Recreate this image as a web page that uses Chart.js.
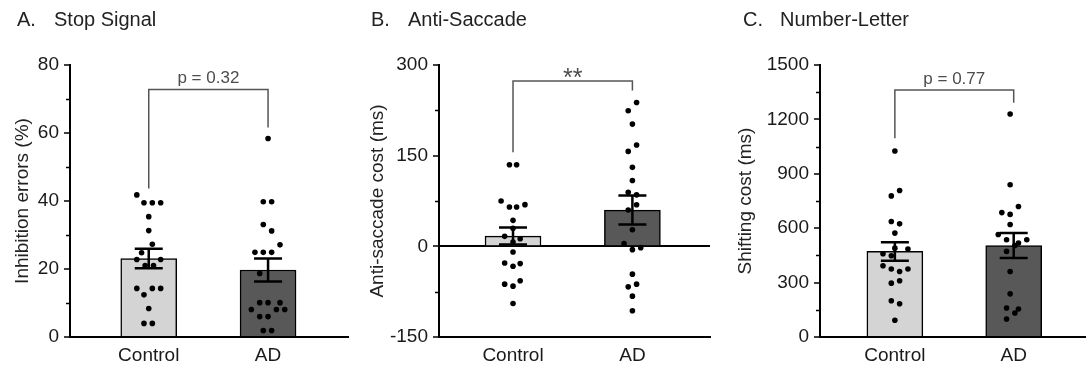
<!DOCTYPE html>
<html>
<head>
<meta charset="utf-8">
<script src="https://cdn.jsdelivr.net/npm/chart.js@4.4.1/dist/chart.umd.min.js"></script>
<style>
  body { margin: 0; background: #fff; width: 1089px; height: 368px; position: relative; overflow: hidden; }
  canvas { position: absolute; top: 0; }
</style>
</head>
<body>
<canvas id="stop" width="358" height="368" style="left:0"></canvas>
<canvas id="saccade" width="358" height="368" style="left:358px"></canvas>
<canvas id="shift" width="373" height="368" style="left:716px"></canvas>
<script>
const groups = ['Control', 'AD'];

// A. Stop Signal
const stopMean = [23.1, 19.7];
const stopSem = [2.85, 3.4];
const stopControl = [41.8, 39.5, 39.5, 39.5, 35.4, 31.3, 27.3, 24.8, 22.8, 22.8, 21.0, 21.0, 14.3, 14.3, 14.3, 12.4, 8.4, 4.0, 4.0];
const stopControlJitter = [-0.10, -0.04, 0.03, 0.10, 0, 0, 0.03, -0.06, -0.10, 0.10, -0.03, 0.04, -0.10, 0.03, 0.10, -0.04, 0, -0.04, 0.03];
const stopAD = [58.4, 39.8, 39.8, 33.1, 31.2, 27.1, 24.9, 24.9, 24.9, 18.7, 10.1, 10.1, 10.1, 8.1, 8.1, 8.1, 6.0, 6.0, 1.9, 1.9];
const stopADJitter = [0, -0.04, 0.03, -0.04, 0.03, 0.10, -0.11, -0.04, 0.03, -0.07, -0.07, 0, 0.10, -0.14, 0.07, 0.14, -0.07, 0, -0.04, 0.03];
const stopBracket = [43.7, 72.8, 61.6];

// B. Anti-Saccade
const saccMean = [17, 60];
const saccSem = [14, 24];
const saccControl = [135, 135, 75, 69, 65, 65, 43, 30, 16.5, 12.6, 7, -9.3, -27.5, -28.6, -33, -57, -62.6, -65.9, -94.5];
const saccControlJitter = [-0.03, 0.03, -0.10, 0.10, -0.03, 0.03, 0, 0, -0.07, 0.06, 0, 0, -0.07, 0.06, 0, 0.06, -0.07, 0, 0];
const saccAD = [237.9, 224.2, 202.2, 167.6, 157.1, 130.7, 108.8, 89.5, 85.2, 68.7, 60, 27.5, 4.4, -2.2, -5.5, -46, -62.6, -67, -82.4, -106.6];
const saccADJitter = [0.035, -0.035, 0, 0.035, -0.035, 0, 0, -0.035, 0.035, 0.035, -0.035, 0, -0.07, 0.07, 0, 0, 0.035, -0.035, 0, 0];
const saccBracket = [155.5, 273.6, 258];

// C. Number-Letter
const shiftMean = [472, 504];
const shiftSem = [51, 69];
const shiftControl = [1026, 808, 778, 637, 624, 573, 490, 485, 459, 448, 393, 375, 361, 375, 310, 297, 200, 183, 92];
const shiftControlJitter = [0, 0.04, -0.03, -0.03, 0.04, 0, 0, 0.11, -0.10, -0.03, -0.10, -0.03, 0.04, 0.11, 0.04, -0.03, -0.03, 0.04, 0];
const shiftAD = [1230, 840, 720, 686, 676, 620, 565, 536, 518, 536, 505, 472, 361, 238, 160, 154, 132, 99];
const shiftADJitter = [-0.03, -0.03, 0.04, -0.10, -0.03, -0.03, -0.13, -0.06, 0.04, 0.11, 0.01, -0.06, -0.03, -0.03, -0.06, 0.04, 0.01, -0.06];
const shiftBracket = [1096, 1362, 1292];

const FONT = '"Liberation Sans", Arial, Helvetica, sans-serif';

// error bars, significance bracket, minor ticks and panel title
const extras = {
  id: 'extras',
  afterDatasetsDraw(chart, args, o) {
    const { ctx, scales: { x, y } } = chart;
    ctx.save();

    // minor ticks
    ctx.strokeStyle = '#000';
    ctx.lineWidth = 1.5;
    y.ticks.forEach(t => {
      if (t.value % o.labelStep === 0) return;
      const py = Math.round(y.getPixelForValue(t.value)) + 0.5;
      ctx.beginPath();
      ctx.moveTo(x.left - 4, py);
      ctx.lineTo(x.left, py);
      ctx.stroke();
    });

    // error bars (mean +/- SEM)
    ctx.lineWidth = 2.5;
    o.mean.forEach((m, i) => {
      const cx = x.getPixelForValue(i);
      const top = y.getPixelForValue(m + o.sem[i]);
      const bot = y.getPixelForValue(m - o.sem[i]);
      ctx.beginPath();
      ctx.moveTo(cx, top); ctx.lineTo(cx, bot);
      ctx.moveTo(cx - 14, top); ctx.lineTo(cx + 14, top);
      ctx.moveTo(cx - 14, bot); ctx.lineTo(cx + 14, bot);
      ctx.stroke();
    });

    // bracket
    const b = o.bracket;
    const x0 = x.getPixelForValue(0), x1 = x.getPixelForValue(1);
    const yt = y.getPixelForValue(b[1]);
    ctx.strokeStyle = '#555';
    ctx.lineWidth = 1.5;
    ctx.beginPath();
    ctx.moveTo(x0, y.getPixelForValue(b[0]));
    ctx.lineTo(x0, yt);
    ctx.lineTo(x1, yt);
    ctx.lineTo(x1, y.getPixelForValue(b[2]));
    ctx.stroke();

    ctx.fillStyle = '#4d4d4d';
    ctx.font = o.noteSize + 'px ' + FONT;
    ctx.textAlign = 'center';
    ctx.textBaseline = 'alphabetic';
    ctx.fillText(o.note, (x0 + x1) / 2, yt + o.noteDy);

    // panel title
    ctx.fillStyle = '#222';
    ctx.font = '20px ' + FONT;
    ctx.textAlign = 'left';
    ctx.fillText(o.title[0], o.titleX, 26);
    ctx.fillText(o.title[1], o.titleX + 37, 26);
    ctx.restore();
  }
};

function panel(id, p) {
  const dots = p.control.map((v, i) => ({ x: p.controlJitter[i], y: v }))
    .concat(p.ad.map((v, i) => ({ x: 1 + p.adJitter[i], y: v })));

  new Chart(document.getElementById(id), {
    type: 'bar',
    data: {
      datasets: [
        {
          type: 'scatter',
          data: dots,
          pointRadius: 2.8,
          pointBackgroundColor: '#000',
          pointBorderWidth: 0,
          order: 0
        },
        {
          data: p.mean.map((m, i) => ({ x: i, y: m })),
          backgroundColor: ['#d4d4d4', '#585858'],
          borderColor: '#000',
          borderWidth: 1.5,
          barThickness: 56,
          order: 1
        }
      ]
    },
    options: {
      responsive: false,
      animation: false,
      devicePixelRatio: 1,
      layout: { padding: { top: 65, right: p.padRight, bottom: 0, left: 0 } },
      plugins: {
        legend: { display: false },
        tooltip: { enabled: false },
        extras: {
          mean: p.mean, sem: p.sem, bracket: p.bracket,
          note: p.note, noteSize: p.noteSize, noteDy: p.noteDy,
          title: p.title, titleX: p.titleX, labelStep: p.labelStep
        }
      },
      scales: {
        x: {
          type: 'linear',
          offset: false,
          min: p.xMin,
          max: p.xMax,
          afterBuildTicks: a => { a.ticks = groups.map((g, i) => ({ value: i })); },
          afterFit: a => { a.height = 31; },
          ticks: {
            callback: v => groups[v],
            autoSkip: false,
            maxRotation: 0,
            padding: 7.5,
            color: '#1a1a1a',
            font: { family: FONT, size: 19 }
          },
          grid: { display: false, drawTicks: false },
          border: { color: '#000', width: 2 }
        },
        y: {
          min: p.yMin,
          max: p.yMax,
          afterFit: a => { a.width = p.yWidth; },
          ticks: {
            stepSize: p.step,
            autoSkip: false,
            padding: 5,
            callback: v => (v % p.labelStep === 0 ? v : ''),
            color: '#1a1a1a',
            font: { family: FONT, size: 19 }
          },
          grid: {
            drawOnChartArea: p.zeroLine,
            color: c => (c.tick && c.tick.value === 0 ? '#000' : 'rgba(0,0,0,0)'),
            lineWidth: 2,
            tickLength: 6,
            tickWidth: 1.5,
            tickColor: c => (c.tick && c.tick.value % p.labelStep === 0 ? '#000' : 'rgba(0,0,0,0)')
          },
          border: { color: '#000', width: 2 },
          title: {
            display: true,
            text: p.yTitle,
            color: '#222',
            font: { family: FONT, size: 19, lineHeight: 1.2 },
            padding: { top: p.yTitlePad, bottom: 0 }
          }
        }
      }
    },
    plugins: [extras]
  });
}

panel('stop', {
  control: stopControl, controlJitter: stopControlJitter,
  ad: stopAD, adJitter: stopADJitter,
  mean: stopMean, sem: stopSem, bracket: stopBracket,
  note: 'p = 0.32', noteSize: 17, noteDy: -6,
  title: ['A.', 'Stop Signal'], titleX: 17,
  yTitle: 'Inhibition errors (%)', yTitlePad: 11,
  yMin: 0, yMax: 80, step: 10, labelStep: 20, zeroLine: false,
  xMin: -0.66, xMax: 1.67, yWidth: 70, padRight: 10
});

panel('saccade', {
  control: saccControl, controlJitter: saccControlJitter,
  ad: saccAD, adJitter: saccADJitter,
  mean: saccMean, sem: saccSem, bracket: saccBracket,
  note: '**', noteSize: 25, noteDy: 5,
  title: ['B.', 'Anti-Saccade'], titleX: 13,
  yTitle: 'Anti-saccade cost (ms)', yTitlePad: 8,
  yMin: -150, yMax: 300, step: 75, labelStep: 150, zeroLine: true,
  xMin: -0.62, xMax: 1.65, yWidth: 81, padRight: 6
});

panel('shift', {
  control: shiftControl, controlJitter: shiftControlJitter,
  ad: shiftAD, adJitter: shiftADJitter,
  mean: shiftMean, sem: shiftSem, bracket: shiftBracket,
  note: 'p = 0.77', noteSize: 17, noteDy: -6,
  title: ['C.', 'Number-Letter'], titleX: 27,
  yTitle: 'Shifting cost (ms)', yTitlePad: 18.5,
  yMin: 0, yMax: 1500, step: 150, labelStep: 300, zeroLine: false,
  xMin: -0.63, xMax: 1.6, yWidth: 104, padRight: 2
});
</script>
</body>
</html>
